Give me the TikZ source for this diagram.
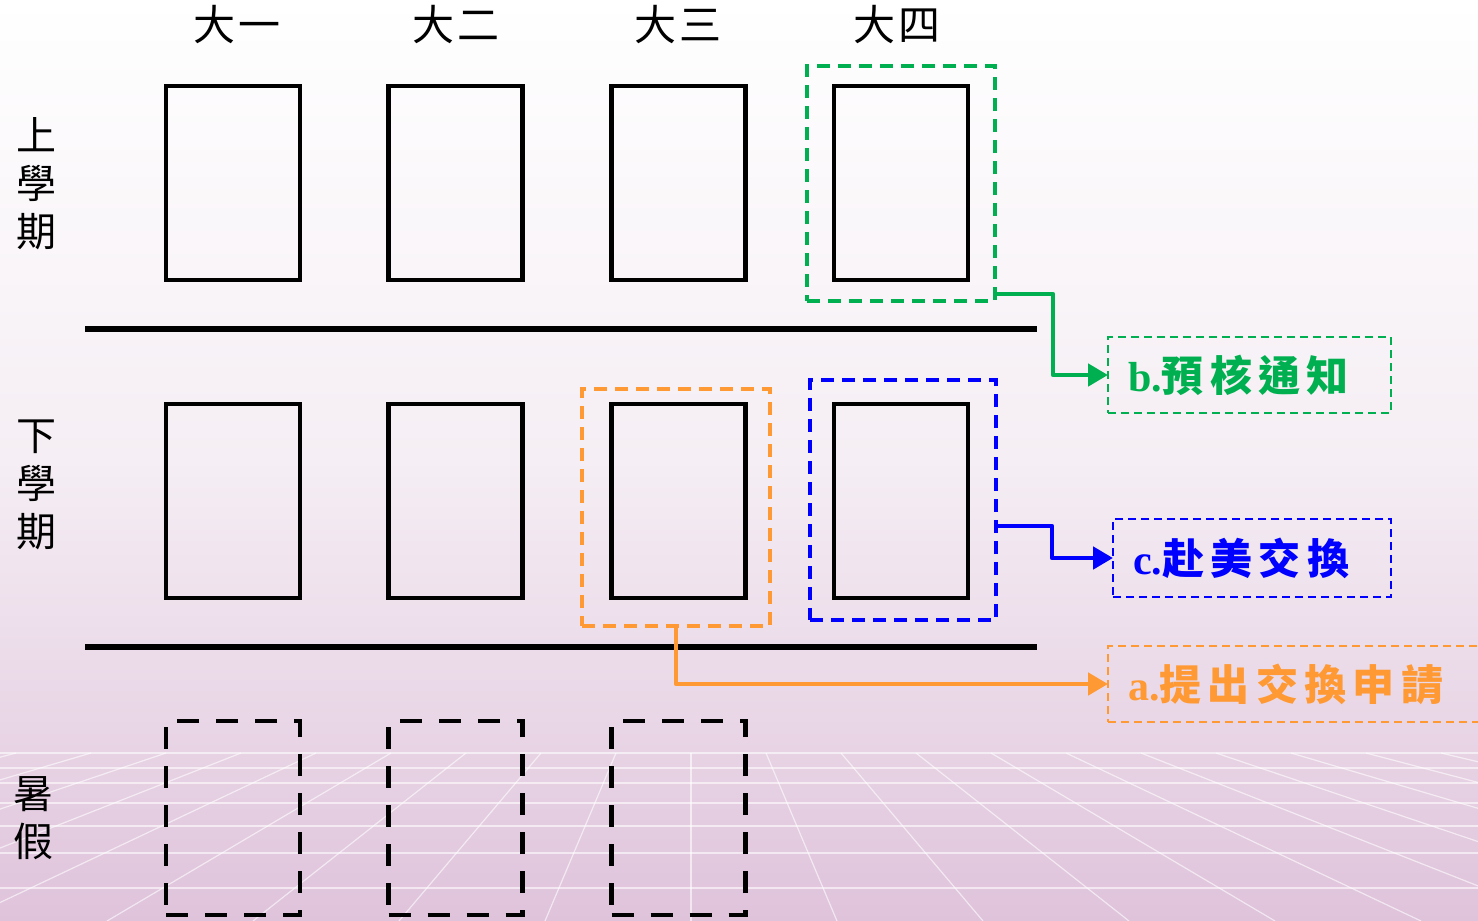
\documentclass[tikz,border=0pt]{standalone}
\usepackage{fontspec}
\usetikzlibrary{arrows.meta,calc}
\newfontfamily\cjk{Noto Sans CJK TC}
\newfontfamily\cjkh{Noto Sans CJK TC}[LetterSpace=6]
\newfontfamily\cjkb{Noto Sans CJK TC}[LetterSpace=15]
\newfontfamily\latinf{Liberation Serif}
\definecolor{gA}{HTML}{00B050}
\definecolor{bA}{HTML}{0000FF}
\definecolor{oA}{HTML}{FF9933}
\definecolor{bgMid}{HTML}{F5EEF4}
\definecolor{bgBot}{HTML}{DFC3DB}
\tikzset{
  cell/.style={draw=black, line width=2.4pt, minimum width=67pt, minimum height=97pt, inner sep=0pt, outer sep=0pt},
  summer/.style={cell, dash pattern=on 11pt off 8.5pt},
  hilite/.style={draw=#1, line width=2.1pt, dash pattern=on 6.5pt off 4pt, inner sep=0pt, outer sep=0pt},
  lab/.style={draw=#1, text=#1, line width=0.8pt, dash pattern=on 4pt off 2.5pt, anchor=west,
     inner xsep=10pt, inner ysep=0pt, outer sep=0pt, align=left,
     font=\cjkb\bfseries\fontsize{21pt}{25pt}\selectfont},
  conn/.style={draw=#1, line width=2.4pt, line join=round, -{Triangle[length=10pt,width=11pt]}},
  head/.style={font=\cjkh\fontsize{21pt}{24pt}\selectfont, inner sep=0pt},
  side/.style={font=\cjk\fontsize{20pt}{24pt}\selectfont, align=center, inner sep=0pt},
  gridh/.style={white, line width=0.9pt, opacity=0.6},
  gridv/.style={white, line width=0.6pt, opacity=0.6}
}
\begin{document}
\begin{tikzpicture}[x=0.5pt,y=-0.5pt]
\useasboundingbox (0,0) rectangle (1478,921);
% background
\shade[top color=white, bottom color=bgMid] (0,0) rectangle (1478,461);
\shade[top color=bgMid, bottom color=bgBot] (0,460) rectangle (1478,921);
% perspective grid
\foreach \yy in {753,768,783,803,826,853,888} \draw[gridh] (0,\yy) -- (1478,\yy);
\foreach \k in {-10,...,10} \draw[gridv] ({691+75*\k},753) -- ({691+146*\k},921);

% headings
\node[head] (h1) at (237,25) {大一};
\node[head] (h2) at (456,25) {大二};
\node[head] (h3) at (678,25) {大三};
\node[head] (h4) at (897,25) {大四};
% side labels
\node[side] (s1) at (37,184) {上\\學\\期};
\node[side] (s2) at (37,485) {下\\學\\期};
\node[side] (s3) at (33,818) {暑\\假};

% dividers
\draw[line width=2.8pt] (85,329) -- (1037,329);
\draw[line width=2.8pt] (85,647) -- (1037,647);

% cells
\node[cell] (a1) at (233,183) {};
\node[cell] (a2) at (455.5,183) {};
\node[cell] (a3) at (678.5,183) {};
\node[cell] (a4) at (901,183) {};
\node[cell] (b1) at (233,501) {};
\node[cell] (b2) at (455.5,501) {};
\node[cell] (b3) at (678.5,501) {};
\node[cell] (b4) at (901,501) {};
\node[summer] (c1) at (233,818) {};
\node[summer] (c2) at (455.5,818) {};
\node[summer] (c3) at (678.5,818) {};

% highlight frames
\node[hilite=gA, minimum width=94pt, minimum height=117.5pt] (gbox) at (901,183.5) {};
\node[hilite=oA, minimum width=94pt, minimum height=118.5pt] (obox) at (676,507.5) {};
\node[hilite=bA, minimum width=93pt, minimum height=120pt] (bbox) at (903,500) {};

% labels
\node[lab=gA, text width=121.5pt, minimum height=38pt] (blab) at (1108,375) {{\latinf\bfseries b.}預核通知};
\node[lab=bA, text width=119pt, minimum height=39pt] (clab) at (1113,558) {{\latinf\bfseries c.}赴美交換};
\node[lab=oA, text width=180pt, minimum height=38pt] (alab) at (1108,684) {{\latinf\bfseries a.}提出交換申請};

% connectors
\draw[conn=gA] ([yshift=3.5pt]gbox.south east) -- ++(29pt,0) |- (blab.west);
\draw[conn=bA] ([yshift=-13pt]bbox.east) -- ++(28pt,0) |- (clab.west);
\draw[conn=oA] (obox.south) |- (alab.west);
\end{tikzpicture}
\end{document}
